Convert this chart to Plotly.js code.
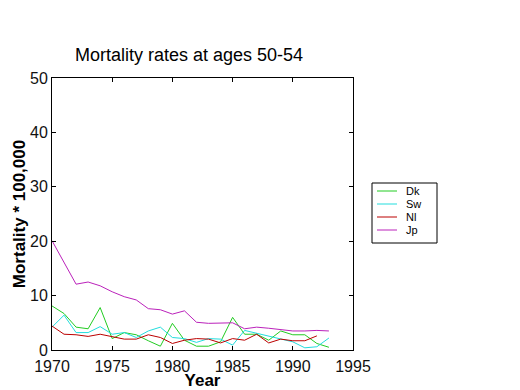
<!DOCTYPE html>
<html><head><meta charset="utf-8">
<script src="https://cdn.plot.ly/plotly-3.0.1.min.js"></script>
<style>html,body{margin:0;padding:0;background:#fff}#c{width:520px;height:390px}</style>
</head><body><div id="c"></div>
<script>
const yearsDk = [1970,1971,1972,1973,1974,1975,1976,1977,1978,1979,1980,1981,1982,1983,1984,1985,1986,1987,1988,1989,1990,1991,1992,1993];
const dk = [8.1,6.7,4.2,3.9,7.8,2.1,3.2,2.8,1.7,0.7,4.9,1.8,0.7,0.7,1.5,6.0,2.9,2.9,1.8,3.5,2.8,2.8,1.2,0.5];
const yearsSw = [1970,1971,1972,1973,1974,1975,1976,1977,1978,1979,1980,1981,1982,1983,1984,1985,1986,1987,1988,1989,1990,1991,1992,1993];
const sw = [4.2,6.4,3.2,3.2,4.3,2.9,3.2,2.3,3.5,4.2,2.3,2.1,1.4,2.1,2.0,0.9,3.6,3.1,2.6,2.1,1.5,0.4,0.6,2.2];
const yearsNl = [1970,1971,1972,1973,1974,1975,1976,1977,1978,1979,1980,1981,1982,1983,1984,1985,1986,1987,1988,1989,1990,1991,1992];
const nl = [4.4,2.9,2.8,2.5,2.9,2.5,2.0,2.0,2.8,2.3,1.2,1.8,2.1,2.0,1.3,2.1,1.8,2.9,1.3,2.0,1.7,1.7,2.6];
const yearsJp = [1970,1971,1972,1973,1974,1975,1976,1977,1978,1979,1980,1981,1982,1983,1984,1985,1986,1987,1988,1989,1990,1991,1992,1993];
const jp = [20.1,16.0,12.1,12.5,11.8,10.7,9.8,9.2,7.6,7.4,6.6,7.2,5.1,4.9,5.0,5.0,3.9,4.2,4.0,3.7,3.5,3.5,3.6,3.5];
const names = ['Dk','Sw','Nl','Jp'];
const colors = ['#22cc22','#22dddd','#bb0000','#bb22bb'];

const xs = [yearsDk, yearsSw, yearsNl, yearsJp];
const ys = [dk, sw, nl, jp];
const traces = names.map((n,i)=>({x:xs[i], y:ys[i], name:n, type:'scatter', mode:'lines',
  line:{color:colors[i], width:1}, showlegend:false}));

// custom compact legend box (paper coordinates)
const L = 52, R = 353, T = 78, B = 350;
const px = v => (v - L) / (R - L);
const py = v => (B - v) / (B - T);
const shapes = [{type:'rect', xref:'paper', yref:'paper', x0:px(372), x1:px(437), y0:py(243), y1:py(183),
  line:{color:'#000', width:1}, fillcolor:'#fff', layer:'above'}];
const annotations = [];
const rowY = [191, 204, 217, 230];
names.forEach((n,i)=>{
  shapes.push({type:'line', xref:'paper', yref:'paper', x0:px(377), x1:px(397), y0:py(rowY[i]), y1:py(rowY[i]),
    line:{color:colors[i], width:1}, layer:'above'});
  annotations.push({text:n, xref:'paper', yref:'paper', x:px(405), y:py(rowY[i]), xanchor:'left', yanchor:'middle',
    showarrow:false, font:{size:11, color:'#000'}, borderpad:0});
});

const tickFont = {size:16, family:'Liberation Sans Narrow, Arial Narrow, Liberation Sans, sans-serif', color:'#111'};
const font = {family:'Liberation Sans, Arial, sans-serif', color:'#000'};
const axis = {showgrid:false, zeroline:false, showline:true, linecolor:'#000', linewidth:1,
  mirror:'ticks', ticks:'inside', ticklen:4, tickcolor:'#000', tickfont:tickFont};
const layout = {
  width:520, height:390, paper_bgcolor:'#fff', plot_bgcolor:'#fff', font:font,
  margin:{l:L, r:520-R, t:T, b:390-B},
  title:{text:'Mortality rates at ages 50-54', font:{size:18}, x:189/520, xanchor:'center', xref:'container', y:1-55/390, yanchor:'middle', yref:'container'},
  xaxis:Object.assign({}, axis, {range:[1970,1995], dtick:5, tick0:1970, ticklabelstandoff:2,
    title:{text:'Year', font:{size:17, weight:'bold'}, standoff:0}}),
  yaxis:Object.assign({}, axis, {range:[0,50], dtick:10, tick0:0,
    title:{text:'Mortality * 100,000', font:{size:17, weight:'bold'}, standoff:0}}),
  showlegend:false,
  shapes:shapes, annotations:annotations
};
Plotly.newPlot('c', traces, layout, {displayModeBar:false, staticPlot:true});
</script></body></html>
